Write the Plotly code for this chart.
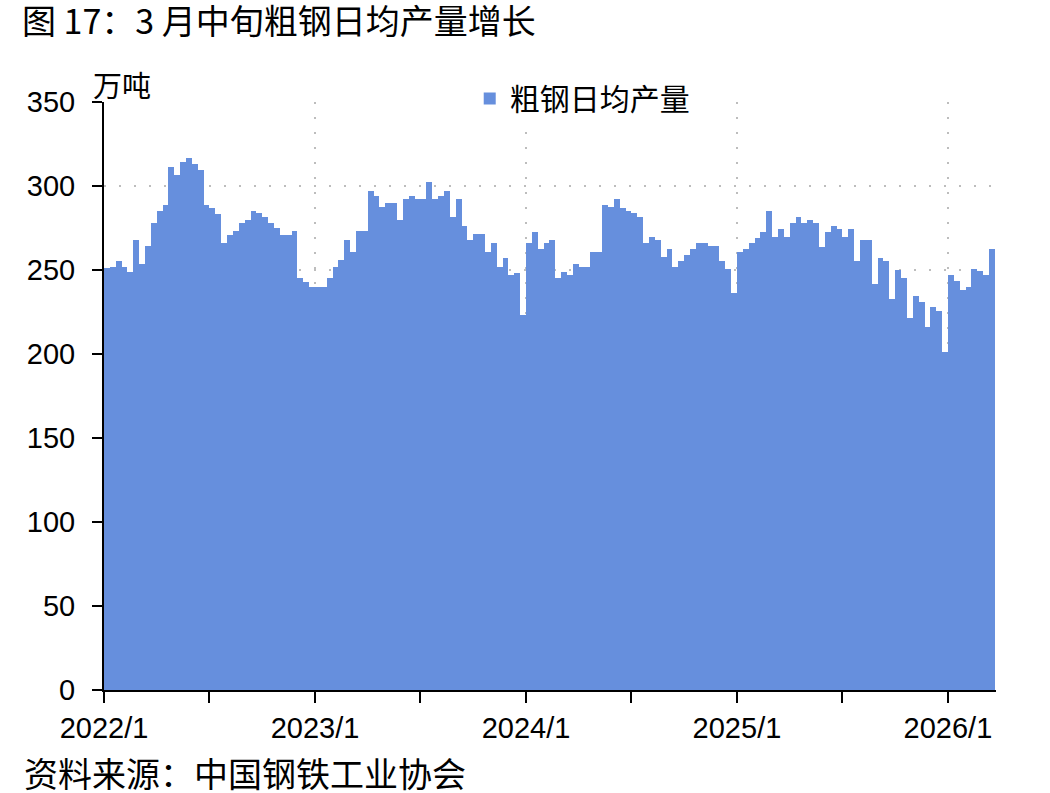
import plotly.graph_objects as go

# ---- data: dekadal (上旬/中旬/下旬) crude steel daily output, 万吨 ----
years = [2022, 2023, 2024, 2025, 2026]
dekad_names = ["上旬", "中旬", "下旬"]

v2022 = [251, 252, 255.5, 252, 248.6, 268, 253.6, 264.3, 278, 285, 288.7, 311.5,
         306.5, 314.5, 316.5, 313, 309.5, 288.7, 286.7, 283.3, 266, 271, 273, 278,
         279.8, 285, 283.7, 281.3, 278, 274.8, 271, 271, 273, 245, 243, 240]
v2023 = [239.7, 239.7, 245, 252, 256, 268, 261, 273, 273, 297, 294, 287.3,
         290, 290, 280, 292, 294, 292, 292, 302.5, 292, 294, 297, 281.7,
         292, 276.4, 268, 271.4, 271.4, 261, 266, 252, 257.3, 247, 248.4, 223]
v2024 = [266, 272.8, 262.3, 266, 268, 245, 249, 247, 253.6, 252, 252, 261,
         261, 288.7, 287.3, 292, 286.7, 285.3, 283.7, 281.7, 266.3, 269.4, 268, 257.5,
         262.3, 252, 255.5, 259, 262.5, 266.3, 266.3, 264, 264.3, 255.5, 250.4, 236.5]
v2025 = [261, 262.3, 266, 269.2, 272.8, 285, 269.4, 274.4, 269.4, 278.2, 281.7, 278.2,
         279.8, 278.2, 263.9, 272.8, 276.4, 274.4, 269.4, 274.4, 255.5, 268, 268, 241.5,
         257.3, 255.4, 233, 250, 245, 221.3, 234.5, 231, 215.9, 227.8, 225.8, 201.4]
v2026 = [247, 243.5, 238, 240, 250.4, 249.4, 247, 262.3]

series_by_year = [v2022, v2023, v2024, v2025, v2026]
year_tick_labels = ["2022/1", "2023/1", "2024/1", "2025/1", "2026/1"]
y_ticks = [0, 50, 100, 150, 200, 250, 300, 350]

title_text = "图 17：3 月中旬粗钢日均产量增长"
source_text = "资料来源：中国钢铁工业协会"
unit_text = "万吨"
series_name = "粗钢日均产量"

# ---- build the dekad sequence ----
values, labels = [], []
for yr, vals in zip(years, series_by_year):
    for i, v in enumerate(vals):
        m = i // 3 + 1
        labels.append(f"{yr}/{m} {dekad_names[i % 3]}")
        values.append(v)

n = len(values)
xpos = [i + 0.5 for i in range(n)]           # dekad index on a numeric axis
year_starts = [36 * k for k in range(len(years))]
mid_year = [36 * k + 18 for k in range(len(years) - 1)]

CJK = "Noto Sans CJK SC"
LAT = "Liberation Sans, Arial"
BLUE = "#668FDD"

W, H = 1050, 793

fig = go.Figure()
fig.add_trace(go.Bar(
    x=xpos, y=values, width=1.0, name=series_name,
    marker=dict(color=BLUE, line=dict(width=0)),
    customdata=labels, hovertemplate="%{customdata}: %{y}万吨<extra></extra>",
))

fig.update_layout(
    width=W, height=H,
    margin=dict(l=104, r=54, t=102, b=103),
    paper_bgcolor="white", plot_bgcolor="white",
    bargap=0,
    showlegend=True,
    legend=dict(x=0.41, y=1.006, xanchor="left", yanchor="middle",
                bgcolor="white", font=dict(family=CJK, size=30, color="black"),
                itemwidth=30, tracegroupgap=0),
    title=dict(text=title_text, x=22 / W, xanchor="left", y=1 - 22 / H,
               yanchor="middle", font=dict(family=CJK, size=34, color="black")),
    annotations=[
        dict(text=source_text, xref="paper", yref="paper",
             x=(22 - 104) / 892, y=(690 - 772) / 588, xanchor="left", yanchor="middle",
             showarrow=False, font=dict(family=CJK, size=34, color="black")),
        dict(text=unit_text, xref="paper", yref="paper",
             x=(91 - 104) / 892, y=(690 - 84) / 588, xanchor="left", yanchor="middle",
             showarrow=False, font=dict(family=CJK, size=29, color="black")),
    ],
)

fig.update_xaxes(
    range=[0, 152.2],
    tickmode="array", tickvals=year_starts, ticktext=year_tick_labels,
    ticks="outside", ticklen=11, tickwidth=2, tickcolor="black",
    showline=True, linecolor="black", linewidth=2,
    showgrid=True, gridcolor="#bdbdbd", gridwidth=2, griddash="2px,13px",
    minor=dict(tickvals=mid_year, ticks="outside", ticklen=11, tickwidth=2,
               tickcolor="black", showgrid=False),
    tickfont=dict(family=LAT, size=29, color="black"),
    ticklabelstandoff=0,
    zeroline=False, fixedrange=True,
)
fig.update_yaxes(
    range=[0, 350], tickvals=y_ticks,
    ticks="outside", ticklen=10, tickwidth=2, tickcolor="black",
    showline=True, linecolor="black", linewidth=2,
    showgrid=True, gridcolor="#bdbdbd", gridwidth=2, griddash="2px,13px",
    tickfont=dict(family=LAT, size=29, color="black"),
    ticklabelstandoff=11,
    zeroline=False, fixedrange=True,
)

# remove the page's default 8px body margin so the figure fills the window
fig.write_html("out.html", config={"displayModeBar": False},
               post_script="document.body.style.margin='0';")
